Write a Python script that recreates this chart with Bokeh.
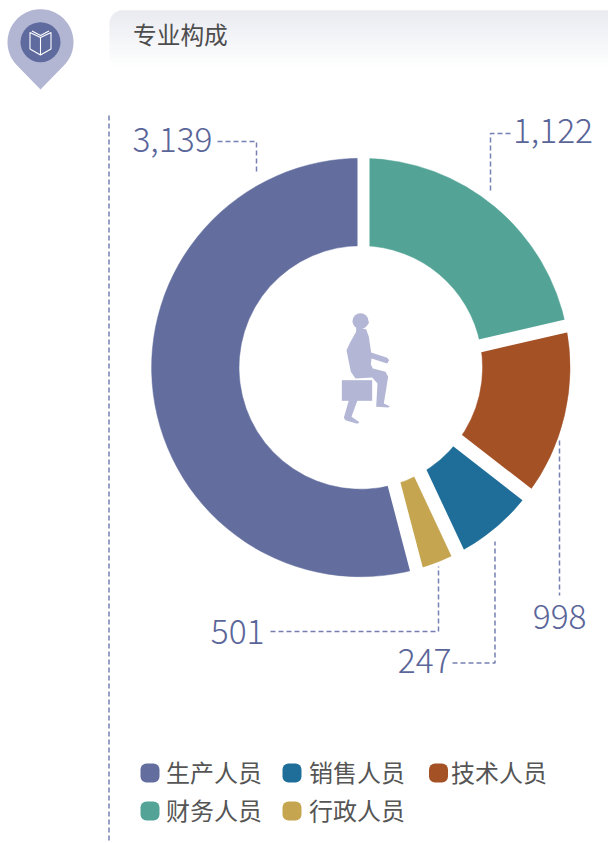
import math
from bokeh.plotting import figure
from bokeh.models import ColumnDataSource, Range1d
from bokeh.core.properties import value
from bokeh.embed import file_html
from bokeh.resources import INLINE

# Slices clockwise from 12 o'clock (shares)
categories = ["财务人员", "技术人员", "销售人员", "行政人员", "生产人员"]
shares = [1249, 769, 389, 204, 3139]
colors = ["#53a497", "#a45126", "#1f6e99", "#c5a550", "#636e9f"]

label_texts = ["3,139", "1,122", "998", "501", "247"]
legend_order = ["生产人员", "销售人员", "技术人员", "财务人员", "行政人员"]
legend_colors = ["#636e9f", "#1f6e99", "#a45126", "#53a497", "#c5a550"]
title_text = "专业构成"

W, H = 608, 843
FONT = value("Noto Sans CJK SC")
FONT_LIGHT = value("Noto Sans CJK SC Light")
ACCENT = "#5a6599"
DASH = "#7680b0"
LIGHT = "#b2b6d3"
PERSON = "#b3b7d5"


def Y(py):
    return H - py


p = figure(width=W, height=H, output_backend="svg", toolbar_location=None,
           x_range=Range1d(0, W), y_range=Range1d(0, H),
           min_border=0, margin=(0, 0, 0, 0))
p.axis.visible = False
p.xgrid.visible = False
p.ygrid.visible = False
p.outline_line_color = None
p.background_fill_color = "white"
p.border_fill_color = "white"

# --- header panel: vertical gradient from grey-blue to white
top, bot, left, rad = 10, 68, 109, 13
c0, c1 = (226, 228, 236), (255, 255, 255)
for py in range(top, bot):
    t = (py - top) / (bot - top - 1)
    col = "#%02x%02x%02x" % tuple(round(a + (b - a) * t) for a, b in zip(c0, c1))
    inset = 0
    d = None
    if py < top + rad:
        d = top + rad - py - 0.5
    elif py >= bot - rad:
        d = py + 0.5 - (bot - rad)
    if d is not None:
        inset = rad - math.sqrt(max(rad * rad - d * d, 0))
    p.quad(left=left + inset, right=W, top=Y(py), bottom=Y(py + 1), fill_color=col, line_color=None)

p.text(x=[132.5], y=[Y(33)], text=[title_text], text_font=FONT, text_font_size="23.7px",
       text_color="#4d4d4d", text_baseline="middle", text_align="left")

# --- pin icon
pcx, pcy, pr, tip = 40, 41.7, 33, 89
a = math.acos(pr / (tip - pcy))
px = [pcx + pr * math.sin(a + (2 * math.pi - 2 * a) * i / 80) for i in range(81)] + [pcx]
py_ = [pcy + pr * math.cos(a + (2 * math.pi - 2 * a) * i / 80) for i in range(81)] + [tip]
p.patch(px, [Y(v) for v in py_], fill_color=LIGHT, line_color=None)
p.circle(x=[pcx], y=[Y(pcy)], radius=20, fill_color="#5f6a9e", line_color=None)
# open-book glyph
book = [
    ([40, 40], [37, 54.5]),
    ([40, 29.5, 29.5, 40, 50.5, 50.5, 40], [37, 32, 48.5, 54.5, 48.5, 32, 37]),
    ([31.5, 40, 48.5], [30.5, 35, 30.5]),
]
for bx, by in book:
    p.line(bx, [Y(v) for v in by], line_color="white", line_width=1.1)

# --- donut
cx, cy = 360.3, 367
rot = math.radians(0.9)
total = sum(shares)
starts, ends = [], []
acc = 0
for s in shares:
    starts.append(math.pi / 2 - rot - 2 * math.pi * acc / total)
    acc += s
    ends.append(math.pi / 2 - rot - 2 * math.pi * acc / total)
src = ColumnDataSource(dict(start=starts, end=ends, color=colors))
p.annular_wedge(x=cx, y=Y(cy), inner_radius=121.8, outer_radius=209.2, start_angle="start", end_angle="end",
                direction="clock", fill_color="color", line_color="color", line_width=0.5, source=src)

# white gaps between the slices
gaps = [
    (363, 246, 363, 158, 12),
    (479.5, 345.3, 565, 325.6, 13),
    (457, 440, 526.3, 493.9, 14.5),
    (420, 473, 457.2, 552.4, 14),
    (393.7, 484.2, 415.8, 568.3, 13.2),
]
for x0, y0, x1, y1, wd in gaps:
    L = math.hypot(x1 - x0, y1 - y0)
    ux, uy = (x1 - x0) / L, (y1 - y0) / L
    p.line([x0 - 10 * ux, x1 + 10 * ux], [Y(y0 - 10 * uy), Y(y1 + 10 * uy)],
           line_color="white", line_width=wd, line_cap="butt")


# --- person silhouette (zoomed outline mapped back to the page)
def person(xs, ys):
    p.patch([335 + v / 3 for v in xs], [Y(308 + v / 3) for v in ys], fill_color=PERSON, line_color=None)


p.circle(x=[335 + 75 / 3], y=[Y(308 + 38 / 3)], radius=8, fill_color=PERSON, line_color=None)
person([92, 101, 94, 84], [32, 43, 50, 58])
person([62, 92, 100, 107, 155, 161, 155, 108, 106, 112, 150, 158, 145, 163, 158, 122, 126, 110, 60, 46, 33, 45, 62],
       [58, 62, 85, 132, 148, 155, 165, 150, 168, 180, 190, 205, 285, 293, 297, 295, 225, 207, 210, 190, 125, 100, 70])
person([19, 110, 110, 19], [215, 215, 277, 277])
person([40, 25, 30, 65, 72, 48, 66], [275, 328, 335, 346, 341, 325, 275])

# --- dashed leaders
leaders = [
    ([108.5, 108.5], [115, 843]),
    ([217, 256, 256], [141, 141, 171]),
    ([490, 490, 512], [190, 133, 133]),
    ([559, 559], [440, 595]),
    ([270, 438, 438], [631, 631, 566]),
    ([452, 494.5, 494.5], [662.5, 662.5, 541]),
]
for lx, ly in leaders:
    p.line(lx, [Y(v) for v in ly], line_color=DASH, line_width=1.5, line_dash="5 3")

# --- value labels
lab_x = [212, 592.5, 586, 264, 451]
lab_y = [138.5, 130, 616, 631, 660]
p.text(x=lab_x, y=[Y(v) for v in lab_y], text=label_texts, text_font=FONT_LIGHT, text_font_size="33.5px",
       text_color=ACCENT, text_baseline="middle", text_align="right")

# --- legend
sw_x = [149.5, 291.5, 438, 149.5, 291.5]
sw_y = [772.5, 772.5, 772.5, 810.5, 810.5]
tx_x = [165.5, 308.5, 450.5, 165.5, 308.5]
p.scatter(x=sw_x, y=[Y(v) for v in sw_y], marker="square", size=7, fill_color=legend_colors,
          line_color=legend_colors, line_width=12, line_join="round")
p.text(x=tx_x, y=[Y(v - 2) for v in sw_y], text=legend_order, text_font=FONT, text_font_size="24px",
       text_color="#555555", text_baseline="middle", text_align="left")

open("out.html", "w").write(file_html(p, INLINE))
